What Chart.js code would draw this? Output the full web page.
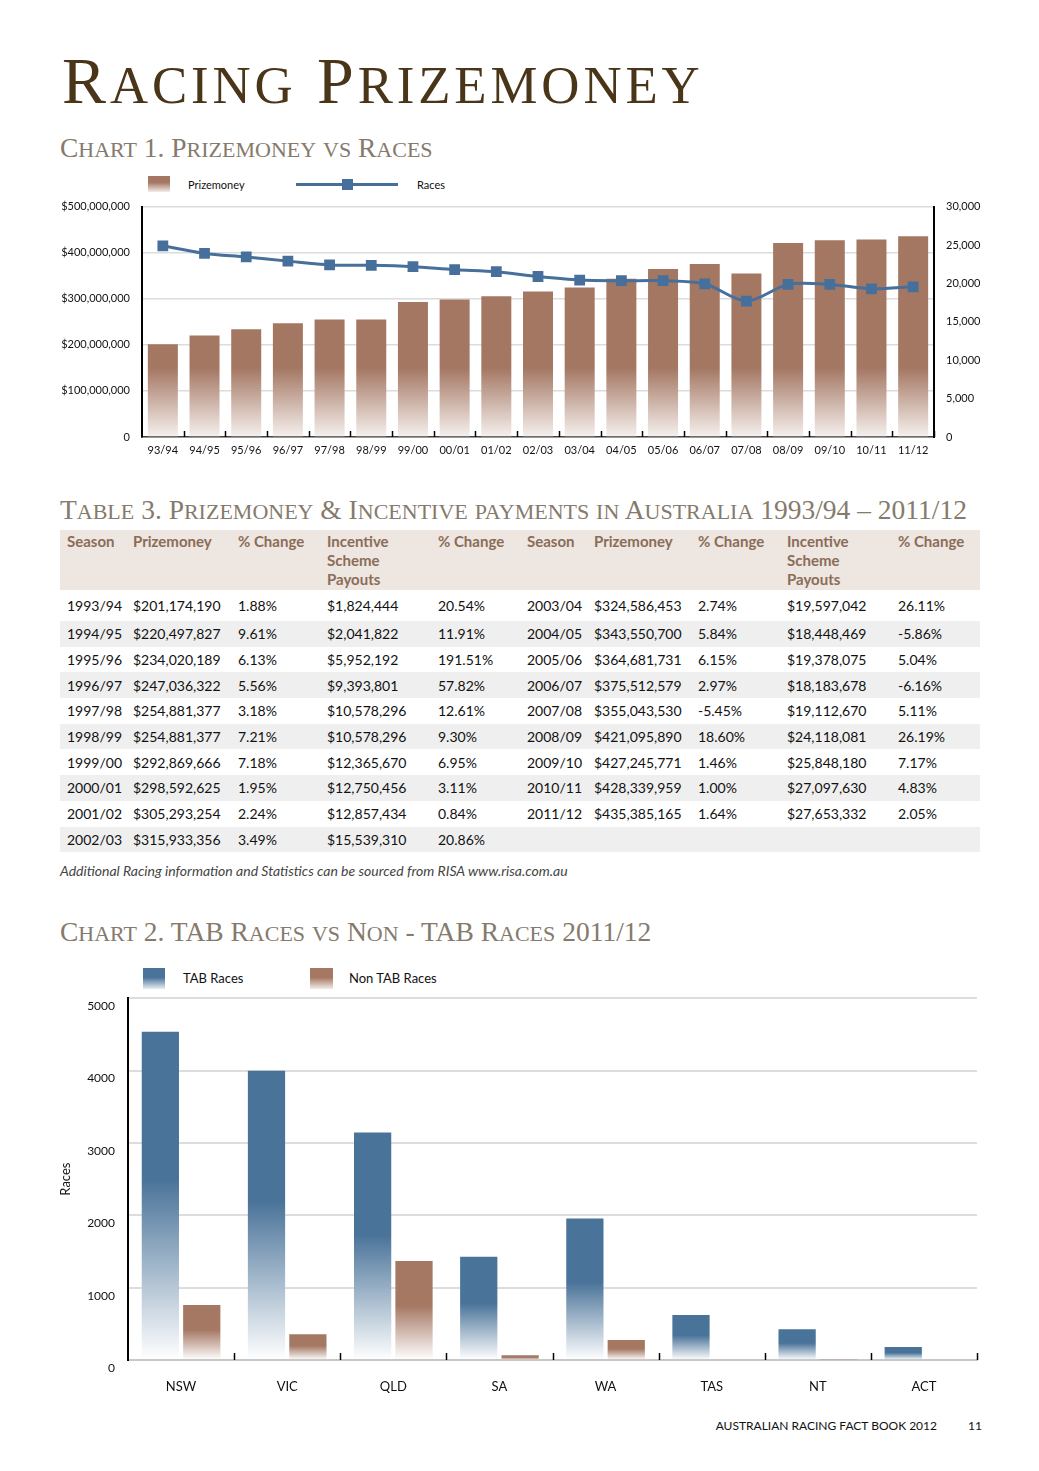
<!DOCTYPE html>
<html>
<head>
<meta charset="utf-8">
<script src="https://cdn.jsdelivr.net/npm/chart.js@4.4.0/dist/chart.umd.min.js"></script>
<style>
    body { margin: 0; background: #fff; }
    .page { position: relative; width: 1039px; height: 1471px; overflow: hidden; font-family: Lato, "Open Sans", sans-serif; color: #111; }
    .abs { position: absolute; }
    .caps { font-family: "Liberation Serif", serif; white-space: nowrap; line-height: 1; }
    .caps .sm { font-size: 0.8em; }
    .title { left: 62px; top: 48px; font-size: 66px; color: #4a3519; letter-spacing: 3.9px; }
    .sub { font-size: 27.5px; color: #857a6b; letter-spacing: 0; }
    .legend { font-size: 11px; white-space: nowrap; line-height: 16px; }
    .legend2 { font-size: 13px; white-space: nowrap; line-height: 20px; }
    table { position: absolute; left: 60px; top: 530px; width: 920px; border-collapse: collapse; font-size: 14px; table-layout: fixed; }
    th { background: #ede6e1; color: #8b6c57; font-weight: bold; font-size: 15px; text-align: left; vertical-align: top; line-height: 19px; padding: 2px 0 1px 7px; height: 57px; }
    td { padding: 0 0 0 7px; height: 25.7px; white-space: nowrap; }
    tr.first td { height: 31px; }
    tr.shade td { background: #efefef; }
    .note { left: 60px; top: 862px; font-size: 14px; font-style: italic; color: #444; white-space: nowrap; }
    .foot { top: 1418px; font-size: 12px; white-space: nowrap; }
</style>
</head>
<body>
<div class="page">
    <div class="abs caps title" data-caps="Racing Prizemoney"></div>
    <div class="abs caps sub" style="left:60px; top:134px;" data-caps="Chart 1. Prizemoney vs Races"></div>

    <div class="abs legend" style="left:148px; top:176px; width:22px; height:16px; background:linear-gradient(#a47763 40%, #f4ece8);"></div>
    <div class="abs legend" style="left:188px; top:177px;">Prizemoney</div>
    <div class="abs" style="left:296px; top:183px; width:102px; height:3px; background:#46709b;"></div>
    <div class="abs" style="left:342px; top:179px; width:11px; height:11px; background:#46709b;"></div>
    <div class="abs legend" style="left:417px; top:177px;">Races</div>

    <div class="abs" style="left:0; top:188px;"><canvas id="chart1" width="1039" height="282"></canvas></div>

    <div class="abs caps sub" style="left:60px; top:496px;" data-caps="Table 3. Prizemoney &amp; Incentive payments in Australia 1993/94 – 2011/12"></div>
    <table id="prizeTable"></table>
    <div class="abs note">Additional Racing information and Statistics can be sourced from RISA www.risa.com.au</div>

    <div class="abs caps sub" style="left:60px; top:918px;" data-caps="Chart 2. TAB Races vs Non - TAB Races 2011/12"></div>

    <div class="abs" style="left:143px; top:968px; width:22px; height:21px; background:linear-gradient(#4a7399 45%, #e9eef4);"></div>
    <div class="abs legend2" style="left:183px; top:968px;">TAB Races</div>
    <div class="abs" style="left:310px; top:968px; width:23px; height:21px; background:linear-gradient(#a57863 45%, #f3ebe7);"></div>
    <div class="abs legend2" style="left:349px; top:968px;">Non TAB Races</div>

    <div class="abs" style="left:0; top:978px;"><canvas id="chart2" width="1039" height="432"></canvas></div>

    <div class="abs foot" style="right:102px;">AUSTRALIAN RACING FACT BOOK 2012</div>
    <div class="abs foot" style="left:968px;">11</div>
</div>

<script>
// chart 1
const seasons = ['93/94', '94/95', '95/96', '96/97', '97/98', '98/99', '99/00', '00/01', '01/02', '02/03',
    '03/04', '04/05', '05/06', '06/07', '07/08', '08/09', '09/10', '10/11', '11/12'];
const prizemoney = [201174190, 220497827, 234020189, 247036322, 254881377, 254881377, 292869666, 298592625,
    305293254, 315933356, 324586453, 343550700, 364681731, 375512579, 355043530, 421095890, 427245771,
    428339959, 435385165];
const races = [24900, 23900, 23450, 22900, 22400, 22350, 22170, 21780, 21520, 20900,
    20440, 20350, 20350, 19950, 17700, 19870, 19870, 19300, 19560];

// table 3
const tblSeasons = ['1993/94', '1994/95', '1995/96', '1996/97', '1997/98', '1998/99', '1999/00', '2000/01', '2001/02', '2002/03',
    '2003/04', '2004/05', '2005/06', '2006/07', '2007/08', '2008/09', '2009/10', '2010/11', '2011/12'];
const tblPrizeChange = ['1.88%', '9.61%', '6.13%', '5.56%', '3.18%', '7.21%', '7.18%', '1.95%', '2.24%', '3.49%',
    '2.74%', '5.84%', '6.15%', '2.97%', '-5.45%', '18.60%', '1.46%', '1.00%', '1.64%'];
const incentive = [1824444, 2041822, 5952192, 9393801, 10578296, 10578296, 12365670, 12750456, 12857434, 15539310,
    19597042, 18448469, 19378075, 18183678, 19112670, 24118081, 25848180, 27097630, 27653332];
const incentiveChange = ['20.54%', '11.91%', '191.51%', '57.82%', '12.61%', '9.30%', '6.95%', '3.11%', '0.84%', '20.86%',
    '26.11%', '-5.86%', '5.04%', '-6.16%', '5.11%', '26.19%', '7.17%', '4.83%', '2.05%'];

// chart 2
const states = ['NSW', 'VIC', 'QLD', 'SA', 'WA', 'TAS', 'NT', 'ACT'];
const tabRaces = [4535, 3996, 3145, 1427, 1957, 622, 424, 180];
const nonTabRaces = [760, 355, 1367, 65, 276, 0, 12, 0];
const chart2Ticks = [0, 1000, 2000, 3000, 4000, 5000];

const money = v => '$' + v.toLocaleString('en-US');

// Trajan-style small caps: lowercase runs become smaller capitals
function renderCaps() {
    document.querySelectorAll('[data-caps]').forEach(el => {
        const txt = el.getAttribute('data-caps');
        el.innerHTML = txt.replace(/[a-z]+/g, m => `<span class="sm">${m.toUpperCase()}</span>`);
    });
}

function renderTable() {
    const head = ['Season', 'Prizemoney', '% Change', 'Incentive<br>Scheme<br>Payouts', '% Change'];
    const widths = [66, 105, 89, 111, 89, 67, 104, 89, 111, 89];
    let html = '<colgroup>' + widths.map(w => `<col style="width:${w}px">`).join('') + '</colgroup>';
    html += '<tr>' + head.concat(head).map(h => `<th>${h}</th>`).join('') + '</tr>';
    for (let i = 0; i < 10; i++) {
        const cls = i === 0 ? 'first' : (i % 2 === 1 ? 'shade' : '');
        let row = `<td>${tblSeasons[i]}</td><td>${money(prizemoney[i])}</td><td>${tblPrizeChange[i]}</td>` +
            `<td>${money(incentive[i])}</td><td>${incentiveChange[i]}</td>`;
        const j = i + 10;
        if (j < tblSeasons.length) {
            row += `<td>${tblSeasons[j]}</td><td>${money(prizemoney[j])}</td><td>${tblPrizeChange[j]}</td>` +
                `<td>${money(incentive[j])}</td><td>${incentiveChange[j]}</td>`;
        } else {
            row += '<td></td><td></td><td></td><td></td><td></td>';
        }
        html += `<tr class="${cls}">${row}</tr>`;
    }
    document.getElementById('prizeTable').innerHTML = html;
}

// small tick marks standing up from the x axis between categories
const innerTicks = {
    id: 'innerTicks',
    afterDatasetsDraw(chart, args, opts) {
        const x = chart.scales.x;
        const ctx = chart.ctx;
        const n = x.ticks.length;
        const step = (x.right - x.left) / n;
        ctx.save();
        ctx.strokeStyle = '#000';
        ctx.lineWidth = 1.5;
        for (let i = 1; i <= n; i++) {
            const px = Math.round(x.left + step * i) + 0.5;
            ctx.beginPath();
            ctx.moveTo(px, x.top);
            ctx.lineTo(px, x.top - opts.len);
            ctx.stroke();
        }
        ctx.restore();
    }
};

function renderChart1() {
    const ctx = document.getElementById('chart1');

    const prizeFill = (c) => {
        const chart = c.chart;
        if (!chart.chartArea) return '#a47763';
        const y = chart.scales.y;
        const g = chart.ctx.createLinearGradient(0, y.getPixelForValue(0), 0, y.getPixelForValue(150000000));
        g.addColorStop(0, '#f6f0ed');
        g.addColorStop(1, '#a47763');
        return g;
    };

    new Chart(ctx, {
        data: {
            labels: seasons,
            datasets: [
                {
                    type: 'line',
                    label: 'Races',
                    data: races,
                    yAxisID: 'y1',
                    borderColor: '#46709b',
                    backgroundColor: '#46709b',
                    borderWidth: 3,
                    pointStyle: 'rect',
                    pointRadius: 5.5,
                    tension: 0.3,
                    order: 0
                },
                {
                    type: 'bar',
                    label: 'Prizemoney',
                    data: prizemoney,
                    yAxisID: 'y',
                    backgroundColor: prizeFill,
                    categoryPercentage: 1,
                    barPercentage: 0.72,
                    order: 1
                }
            ]
        },
        options: {
            responsive: false,
            animation: false,
            layout: { padding: 0 },
            plugins: {
                legend: { display: false },
                tooltip: { enabled: false },
                innerTicks: { len: 6 }
            },
            scales: {
                x: {
                    grid: { display: false, drawTicks: false },
                    border: { color: '#444', width: 1.5 },
                    ticks: { color: '#111', font: { family: 'Lato', size: 11 }, padding: 7, maxRotation: 0, autoSkip: false },
                    afterFit: s => { s.height = 33; }
                },
                y: {
                    position: 'left',
                    min: 0,
                    max: 500000000,
                    grid: { color: '#dcdcdc', lineWidth: 1.5, drawTicks: false },
                    border: { color: '#000', width: 2 },
                    ticks: { stepSize: 100000000, color: '#111', font: { family: 'Lato', size: 11 }, padding: 12, callback: v => v === 0 ? '0' : money(v) },
                    afterFit: s => { s.width = 142; }
                },
                y1: {
                    position: 'right',
                    min: 0,
                    max: 30000,
                    grid: { drawOnChartArea: false, drawTicks: false },
                    border: { color: '#000', width: 2 },
                    ticks: { stepSize: 5000, color: '#111', font: { family: 'Lato', size: 11 }, padding: 12, callback: v => v.toLocaleString('en-US') },
                    afterFit: s => { s.width = 105; }
                }
            }
        },
        plugins: [innerTicks]
    });
}

function barFade(color) {
    return function (c) {
        const chart = c.chart;
        if (!chart.chartArea || c.type !== 'data') return color;
        const y = chart.scales.y;
        const top = y.getPixelForValue(c.raw);
        const base = y.getPixelForValue(0);
        if (base - top < 2) return color;
        const g = chart.ctx.createLinearGradient(0, top, 0, base);
        g.addColorStop(0, color);
        g.addColorStop(0.45, color);
        g.addColorStop(1, '#ffffff');
        return g;
    };
}

function renderChart2() {
    const ctx = document.getElementById('chart2');

    new Chart(ctx, {
        type: 'bar',
        data: {
            labels: states,
            datasets: [
                {
                    label: 'TAB Races',
                    data: tabRaces,
                    backgroundColor: barFade('#4a7399'),
                    categoryPercentage: 0.78,
                    barPercentage: 0.9
                },
                {
                    label: 'Non TAB Races',
                    data: nonTabRaces,
                    backgroundColor: barFade('#a57863'),
                    categoryPercentage: 0.78,
                    barPercentage: 0.9
                }
            ]
        },
        options: {
            responsive: false,
            animation: false,
            layout: { padding: { top: 0, left: 0, right: 62, bottom: 0 } },
            plugins: {
                legend: { display: false },
                tooltip: { enabled: false },
                innerTicks: { len: 7 }
            },
            scales: {
                x: {
                    grid: { display: false, drawTicks: false },
                    border: { color: '#c8c8c8', width: 2 },
                    ticks: { color: '#111', font: { family: 'Lato', size: 13 }, padding: 19 },
                    afterFit: s => { s.height = 50; }
                },
                y: {
                    min: 0,
                    max: 5000,
                    afterBuildTicks: s => { s.ticks = chart2Ticks.map(v => ({ value: v })); },
                    grid: { color: '#dddddd', lineWidth: 2, drawTicks: false },
                    border: { color: '#000', width: 2 },
                    ticks: { color: '#111', font: { family: 'Lato', size: 12 }, padding: 13, labelOffset: 8, callback: v => String(v) },
                    title: { display: true, text: 'Races', color: '#111', font: { family: 'Lato', size: 13 }, padding: { top: 58, bottom: 0 } },
                    afterFit: s => { s.width = 128; }
                }
            }
        },
        plugins: [innerTicks]
    });
}

renderCaps();
renderTable();
renderChart1();
renderChart2();
</script>
</body>
</html>
